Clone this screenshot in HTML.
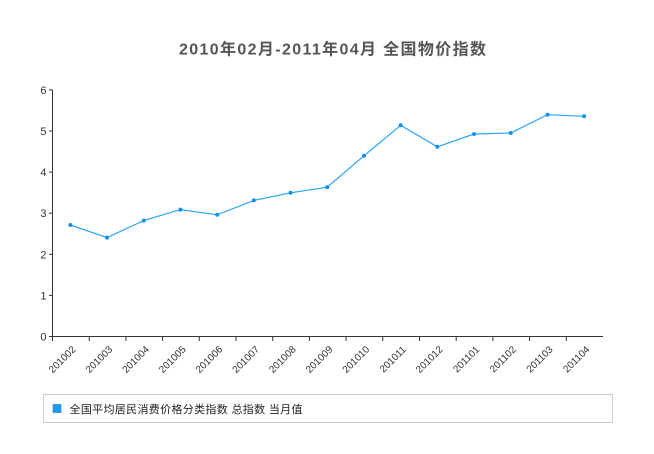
<!DOCTYPE html>
<html>
<head>
<meta charset="utf-8">
<style>
  html,body{margin:0;padding:0;background:#fff;}
  body{width:654px;height:454px;overflow:hidden;}
  svg{display:block;}
  text{font-family:"Liberation Sans","Noto Sans CJK SC",sans-serif;}
</style>
</head>
<body>
<svg width="654" height="454" viewBox="0 0 654 454" xmlns="http://www.w3.org/2000/svg">
  <rect x="0" y="0" width="654" height="454" fill="#ffffff"/>
  <!-- Title -->
  <text x="179" y="54.5" font-size="16" font-weight="bold" fill="#555555" textLength="307" lengthAdjust="spacing">2010年02月-2011年04月 全国物价指数</text>

  <!-- Y axis -->
  <g stroke="#333" stroke-width="1" fill="none">
    <line x1="52.5" y1="89.5" x2="52.5" y2="341"/>
    <line x1="49" y1="89.9" x2="52.5" y2="89.9"/>
    <line x1="49" y1="131" x2="52.5" y2="131"/>
    <line x1="49" y1="172.1" x2="52.5" y2="172.1"/>
    <line x1="49" y1="213.2" x2="52.5" y2="213.2"/>
    <line x1="49" y1="254.3" x2="52.5" y2="254.3"/>
    <line x1="49" y1="295.4" x2="52.5" y2="295.4"/>
    <!-- X axis -->
    <line x1="49" y1="336.5" x2="603" y2="336.5"/>
  </g>
  <g font-size="11" fill="#333" text-anchor="end">
    <text x="46.5" y="93.9">6</text>
    <text x="46.5" y="135">5</text>
    <text x="46.5" y="176.1">4</text>
    <text x="46.5" y="217.2">3</text>
    <text x="46.5" y="258.3">2</text>
    <text x="46.5" y="299.4">1</text>
    <text x="46.5" y="340.5">0</text>
  </g>

  <!-- X ticks -->
  <g stroke="#333" stroke-width="1">
    <line x1="52.5" y1="336.5" x2="52.5" y2="341"/>
    <line x1="89.2" y1="336.5" x2="89.2" y2="341"/>
    <line x1="125.9" y1="336.5" x2="125.9" y2="341"/>
    <line x1="162.6" y1="336.5" x2="162.6" y2="341"/>
    <line x1="199.3" y1="336.5" x2="199.3" y2="341"/>
    <line x1="236" y1="336.5" x2="236" y2="341"/>
    <line x1="272.7" y1="336.5" x2="272.7" y2="341"/>
    <line x1="309.4" y1="336.5" x2="309.4" y2="341"/>
    <line x1="346.1" y1="336.5" x2="346.1" y2="341"/>
    <line x1="382.8" y1="336.5" x2="382.8" y2="341"/>
    <line x1="419.5" y1="336.5" x2="419.5" y2="341"/>
    <line x1="456.2" y1="336.5" x2="456.2" y2="341"/>
    <line x1="492.9" y1="336.5" x2="492.9" y2="341"/>
    <line x1="529.6" y1="336.5" x2="529.6" y2="341"/>
    <line x1="566.3" y1="336.5" x2="566.3" y2="341"/>
  </g>

  <!-- X labels -->
  <g font-size="10" fill="#333" text-anchor="end">
    <text transform="translate(76.4,350) rotate(-45)">201002</text>
    <text transform="translate(113.1,350) rotate(-45)">201003</text>
    <text transform="translate(149.8,350) rotate(-45)">201004</text>
    <text transform="translate(186.5,350) rotate(-45)">201005</text>
    <text transform="translate(223.2,350) rotate(-45)">201006</text>
    <text transform="translate(259.9,350) rotate(-45)">201007</text>
    <text transform="translate(296.6,350) rotate(-45)">201008</text>
    <text transform="translate(333.3,350) rotate(-45)">201009</text>
    <text transform="translate(370,350) rotate(-45)">201010</text>
    <text transform="translate(406.7,350) rotate(-45)">201011</text>
    <text transform="translate(443.4,350) rotate(-45)">201012</text>
    <text transform="translate(480.1,350) rotate(-45)">201101</text>
    <text transform="translate(516.8,350) rotate(-45)">201102</text>
    <text transform="translate(553.5,350) rotate(-45)">201103</text>
    <text transform="translate(590.2,350) rotate(-45)">201104</text>
  </g>

  <!-- Series -->
  <polyline fill="none" stroke="#2aa4f4" stroke-width="1.2"
    points="70.35,225 107.05,237.6 143.75,220.6 180.45,209.6 217.15,214.8 253.85,200.4 290.55,192.8 327.25,187.2 363.95,155.8 400.65,125.3 437.35,146.8 474.05,134 510.75,133 547.45,114.7 584.15,116.3"/>
  <g fill="#1590e8">
    <circle cx="70.35" cy="225" r="2"/>
    <circle cx="107.05" cy="237.6" r="2"/>
    <circle cx="143.75" cy="220.6" r="2"/>
    <circle cx="180.45" cy="209.6" r="2"/>
    <circle cx="217.15" cy="214.8" r="2"/>
    <circle cx="253.85" cy="200.4" r="2"/>
    <circle cx="290.55" cy="192.8" r="2"/>
    <circle cx="327.25" cy="187.2" r="2"/>
    <circle cx="363.95" cy="155.8" r="2"/>
    <circle cx="400.65" cy="125.3" r="2"/>
    <circle cx="437.35" cy="146.8" r="2"/>
    <circle cx="474.05" cy="134" r="2"/>
    <circle cx="510.75" cy="133" r="2"/>
    <circle cx="547.45" cy="114.7" r="2"/>
    <circle cx="584.15" cy="116.3" r="2"/>
  </g>

  <!-- Legend -->
  <rect x="43.5" y="394.5" width="569" height="28" fill="#fff" stroke="#cccccc" stroke-width="1"/>
  <rect x="53" y="404.5" width="8" height="8" fill="#1a9cf0" stroke="#2277aa" stroke-width="0.6"/>
  <text x="69.5" y="413" font-size="11" fill="#222" textLength="233" lengthAdjust="spacing">全国平均居民消费价格分类指数 总指数 当月值</text>
</svg>
</body>
</html>
